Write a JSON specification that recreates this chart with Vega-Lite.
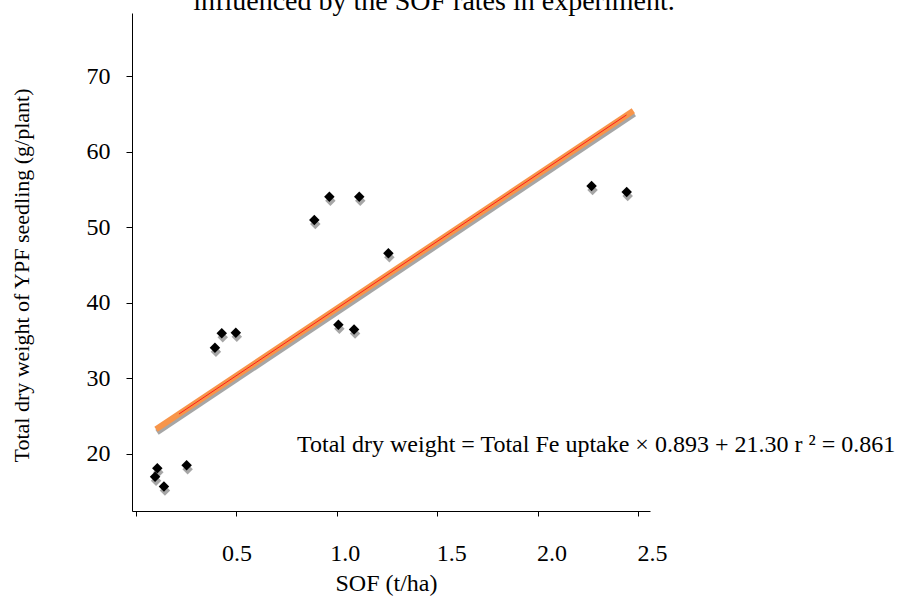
{
  "$schema": "https://vega.github.io/schema/vega-lite/v6.json",
  "width": 518,
  "height": 498,
  "autosize": {"type": "none"},
  "padding": {"left": 132, "top": 13, "right": 252, "bottom": 88},
  "background": "white",
  "config": {
    "view": {"stroke": null},
    "font": "Liberation Serif",
    "text": {"font": "Liberation Serif"},
    "axis": {
      "domainColor": "black",
      "tickColor": "black",
      "labelColor": "black",
      "titleColor": "black",
      "labelFont": "Liberation Serif",
      "titleFont": "Liberation Serif",
      "titleFontWeight": "normal",
      "grid": false
    }
  },
  "title": {
    "text": "influenced by the SOF rates in experiment.",
    "fontSize": 28,
    "fontWeight": "normal",
    "font": "Liberation Serif",
    "color": "black",
    "baseline": "alphabetic",
    "offset": 2,
    "dx": 43,
    "dy": 27
  },
  "datasets": {
    "points": [
      {"x": 0.106, "y": 18.1},
      {"x": 0.095, "y": 17.0},
      {"x": 0.139, "y": 15.7},
      {"x": 0.252, "y": 18.5},
      {"x": 0.393, "y": 34.07},
      {"x": 0.427, "y": 35.98},
      {"x": 0.497, "y": 36.06},
      {"x": 0.888, "y": 50.98},
      {"x": 0.963, "y": 54.06},
      {"x": 1.112, "y": 54.06},
      {"x": 1.008, "y": 37.1},
      {"x": 1.086, "y": 36.5},
      {"x": 1.257, "y": 46.57},
      {"x": 2.269, "y": 55.5},
      {"x": 2.444, "y": 54.7}
    ],
    "fit": [{"x": 0.0996, "y": 23.27}, {"x": 2.477, "y": 65.46}],
    "fitInner": [{"x": 0.214, "y": 25.3}, {"x": 2.443, "y": 64.9}],
    "note": [{"x": 0.802, "y": 20.26, "label": "Total dry weight = Total Fe uptake × 0.893 + 21.30 r ² = 0.861"}]
  },
  "encoding": {
    "x": {
      "field": "x",
      "type": "quantitative",
      "scale": {"domain": [-0.02, 2.56], "nice": false, "zero": false},
      "axis": {
        "title": "SOF (t/ha)",
        "values": [0, 0.5, 1, 1.5, 2, 2.5],
        "labelExpr": "datum.value == 0 ? '' : format(datum.value, '.1f')",
        "labelFont": "Liberation Serif",
        "titleFont": "Liberation Serif",
        "labelFontSize": 24,
        "titleFontSize": 24,
        "tickSize": 5,
        "labelPadding": 25,
        "labelOffset": {"condition": [{"test": "datum.value == 1", "value": 8}, {"test": "datum.value >= 1.5", "value": 14}], "value": 0},
        "titleX": 254,
        "titleY": 79,
        "titleBaseline": "alphabetic",
        "labelFlush": false,
        "labelOverlap": false
      }
    },
    "y": {
      "field": "y",
      "type": "quantitative",
      "scale": {"domain": [12.45, 78.4], "nice": false, "zero": false},
      "axis": {
        "title": "Total dry weight of YPF seedling (g/plant)",
        "values": [20, 30, 40, 50, 60, 70],
        "labelFont": "Liberation Serif",
        "titleFont": "Liberation Serif",
        "labelFontSize": 24,
        "titleFontSize": 22,
        "tickSize": 6,
        "labelPadding": 16,
        "titleX": -104,
        "titleY": 262,
        "titleBaseline": "alphabetic",
        "labelFlush": false,
        "labelOverlap": false
      }
    }
  },
  "layer": [
    {
      "data": {"name": "fit"},
      "mark": {"type": "line", "color": "#a6a6a6", "strokeWidth": 6, "strokeCap": "butt", "xOffset": 1, "yOffset": 3}
    },
    {
      "data": {"name": "fit"},
      "mark": {"type": "line", "color": "#f7954a", "strokeWidth": 6, "strokeCap": "butt"}
    },
    {
      "data": {"name": "fitInner"},
      "mark": {"type": "line", "color": "#ff1a1a", "strokeWidth": 1}
    },
    {
      "data": {"name": "points"},
      "mark": {"type": "point", "shape": "diamond", "filled": true, "color": "#a6a6a6", "size": 110, "opacity": 1, "xOffset": 1, "yOffset": 4}
    },
    {
      "data": {"name": "points"},
      "mark": {"type": "point", "shape": "diamond", "filled": true, "color": "black", "size": 110, "opacity": 1}
    },
    {
      "data": {"name": "note"},
      "mark": {"type": "text", "align": "left", "baseline": "alphabetic", "fontSize": 24, "font": "Liberation Serif", "color": "black"},
      "encoding": {"text": {"field": "label"}}
    }
  ]
}
